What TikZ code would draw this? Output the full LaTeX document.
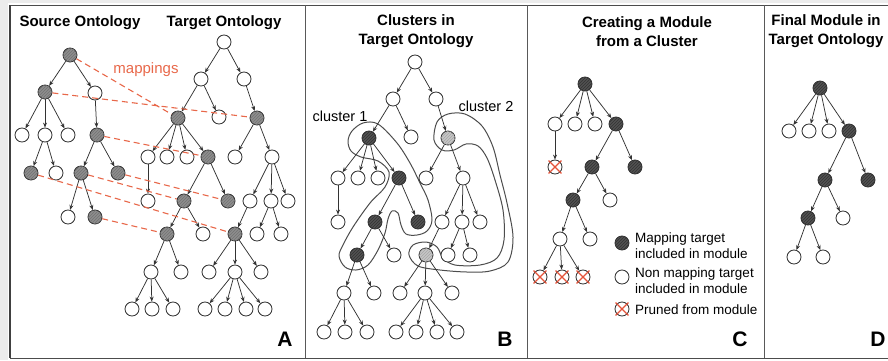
\documentclass[tikz,border=0pt]{standalone}
\usepackage{fontspec}
\setmainfont{Liberation Sans}
\usetikzlibrary{arrows.meta,patterns}
\definecolor{mapred}{HTML}{E8684A}
\definecolor{hatchA}{HTML}{8E8E8E}
\definecolor{darkN}{HTML}{525252}
\definecolor{lightN}{HTML}{C6C6C6}
\definecolor{xred}{HTML}{E5533A}
\tikzset{
 nd/.style={circle, draw=black!80, line width=0.85pt, minimum size=14pt, inner sep=0pt, fill=white},
 wn/.style={nd},
 hn/.style={nd, fill=hatchA, postaction={pattern=north east lines, pattern color=black!55}},
 dn/.style={nd, fill=darkN, postaction={pattern=north east lines, pattern color=black!80}},
 ln/.style={nd, fill=lightN, postaction={pattern=north east lines, pattern color=black!35}},
 ed/.style={-{Stealth[length=5pt,width=4pt]}, line width=0.75pt, draw=black!80},
 mp/.style={draw=mapred, line width=1.1pt, dash pattern=on 6pt off 4pt},
 clus/.style={draw=black!70, line width=1pt},
 xr/.style={draw=xred, line width=1.3pt},
 ttl/.style={font=\bfseries\fontsize{15}{19}\selectfont, align=center, inner sep=0pt},
 lab/.style={font=\bfseries\fontsize{21}{21}\selectfont, inner sep=0pt},
 lgd/.style={font=\fontsize{13.5}{15.5}\selectfont, align=left, anchor=west, inner sep=0pt},
 cl/.style={font=\fontsize{14.5}{16}\selectfont, inner sep=0pt},
}
\begin{document}
\begin{tikzpicture}[x=1pt,y=-1pt]
\useasboundingbox (0,0) rectangle (888,360);
% frame
\fill[gray!15] (0,0) rectangle (888,3);
\fill[gray!15] (0,0) rectangle (8,360);
\draw[black!70, line width=0.8pt] (10,5) -- (888,5);
\draw[black!70, line width=1pt] (10,358) -- (888,358);
\draw[black!75, line width=1.6pt] (10,5) -- (10,358);
\foreach \xx in {305,527,764} \draw[black!65, line width=1pt] (\xx,5) -- (\xx,358);

% titles
\node[ttl] (tA1) at (80,23) {Source Ontology};
\node[ttl] (tA2) at (224,23) {Target Ontology};
\node[ttl] (tB) at (416,31.5) {Clusters in\\Target Ontology};
\node[ttl] (tC) at (647,32) {Creating a Module\\from a Cluster};
\node[ttl] (tD) at (826,31) {Final Module in\\Target Ontology};
\node[lab] (LA) at (285,339) {A};
\node[lab] (LB) at (505,339) {B};
\node[lab] (LC) at (740,339) {C};
\node[lab] (LD) at (878,339) {D};

% cluster outlines (panel B)
\draw[clus] plot[smooth cycle, tension=0.55] coordinates {
 (352,131) (363,123) (378,124) (397,143) (410,163) (420,183) (428,200) (432,220)
 (427,231) (417,235) (406,234) (401,225) (398,213) (392,211) (388,219) (385,233)
 (378,250) (368,265) (356,270) (345,267) (339,256) (343,245) (353,227) (370,203)
 (385,187) (389,172) (378,161) (361,157) (351,151) (348,141)};
\draw[clus] plot[smooth cycle, tension=0.55] coordinates {
 (434,140) (437,122) (448,114) (465,114) (482,126) (493,147) (500,175) (507,203)
 (513,237) (508,262) (490,271) (467,272) (440,270) (418,266) (409,255) (413,245)
 (426,242) (437,247) (443,258) (455,265) (480,265) (497,258) (504,240) (503,210)
 (495,180) (487,158) (478,146) (466,144) (454,150) (442,150)};
\node[cl] (cl1) at (340,116) {cluster 1};
\node[cl] (cl2) at (486,106) {cluster 2};

% ---------- Panel A: source ----------
\node[hn] (s0) at (70,55) {};
\node[hn] (s1) at (45,92) {};
\node[wn] (s2) at (95,93) {};
\node[wn] (s3) at (22,135) {};
\node[wn] (s4) at (45,135) {};
\node[wn] (s5) at (68,135) {};
\node[hn] (s6) at (97,135) {};
\node[hn] (s7) at (31,173) {};
\node[wn] (s8) at (56,173) {};
\node[hn] (s9) at (81,173) {};
\node[hn] (s10) at (118,173) {};
\node[wn] (s11) at (68,217) {};
\node[hn] (s12) at (95,217) {};
\foreach \a/\b in {s0/s1,s0/s2,s1/s3,s1/s4,s1/s5,s2/s6,s4/s7,s4/s8,s6/s9,s6/s10,s9/s11,s9/s12}
  \draw[ed] (\a) -- (\b);

% ---------- Panel A: target ----------
\node[wn] (t0) at (224,42) {};
\node[wn] (t1) at (201,79) {};
\node[wn] (t2) at (244,79) {};
\node[hn] (t3) at (178,118) {};
\node[wn] (t4) at (219,117) {};
\node[hn] (t5) at (257,118) {};
\node[wn] (t6) at (148,157) {};
\node[wn] (t7) at (167,157) {};
\node[wn] (t8) at (187,157) {};
\node[hn] (t9) at (208,157) {};
\node[wn] (t10) at (235,157) {};
\node[wn] (t11) at (272,157) {};
\node[wn] (t12) at (148,201) {};
\node[hn] (t13) at (184,201) {};
\node[hn] (t14) at (228,201) {};
\node[wn] (t15) at (250,201) {};
\node[wn] (t16) at (271,201) {};
\node[wn] (t17) at (288,201) {};
\node[hn] (t18) at (167,234) {};
\node[wn] (t19) at (203,234) {};
\node[hn] (t20) at (235,234) {};
\node[wn] (t21) at (257,234) {};
\node[wn] (t22) at (281,234) {};
\node[wn] (t23) at (151,272) {};
\node[wn] (t24) at (181,272) {};
\node[wn] (t25) at (209,272) {};
\node[wn] (t26) at (235,272) {};
\node[wn] (t27) at (261,272) {};
\node[wn] (t28) at (132,309) {};
\node[wn] (t29) at (152,309) {};
\node[wn] (t30) at (173,309) {};
\node[wn] (t31) at (205,309) {};
\node[wn] (t32) at (225,309) {};
\node[wn] (t33) at (246,309) {};
\node[wn] (t34) at (265,309) {};
\foreach \a/\b in {t0/t1,t0/t2,t1/t3,t1/t4,t2/t5,t3/t6,t3/t7,t3/t8,t3/t9,t5/t10,t5/t11,
  t6/t12,t9/t13,t9/t14,t11/t15,t11/t16,t11/t17,t13/t18,t13/t19,t15/t20,t16/t21,t16/t22,
  t18/t23,t18/t24,t20/t25,t20/t26,t20/t27,t23/t28,t23/t29,t23/t30,t26/t31,t26/t32,t26/t33,t26/t34}
  \draw[ed] (\a) -- (\b);

% mappings
\foreach \a/\b in {s0/t3,s1/t5,s6/t9,s7/t20,s9/t13,s10/t14,s12/t18}
  \draw[mp] (\a) -- (\b);
\node[cl, text=mapred, font=\fontsize{15}{16}\selectfont] (mpl) at (146,70) {mappings};

% ---------- Panel B ----------
\node[wn] (b0) at (415,62) {};
\node[wn] (b1) at (393,99) {};
\node[wn] (b2) at (436,99) {};
\node[dn] (b3) at (369,138) {};
\node[wn] (b4) at (411,137) {};
\node[ln] (b5) at (448,138) {};
\node[wn] (b6) at (338,178) {};
\node[wn] (b7) at (358,178) {};
\node[wn] (b8) at (378,178) {};
\node[dn] (b9) at (399,178) {};
\node[wn] (b10) at (426,178) {};
\node[wn] (b11) at (463,178) {};
\node[wn] (b12) at (338,222) {};
\node[dn] (b13) at (375,222) {};
\node[dn] (b14) at (418,222) {};
\node[wn] (b15) at (442,222) {};
\node[wn] (b16) at (462,222) {};
\node[wn] (b17) at (480,222) {};
\node[dn] (b18) at (357,255) {};
\node[wn] (b19) at (394,255) {};
\node[ln] (b20) at (426,255) {};
\node[wn] (b21) at (448,255) {};
\node[wn] (b22) at (470,255) {};
\node[wn] (b23) at (344,293) {};
\node[wn] (b24) at (374,293) {};
\node[wn] (b25) at (400,293) {};
\node[wn] (b26) at (425,293) {};
\node[wn] (b27) at (452,293) {};
\node[wn] (b28) at (324,332) {};
\node[wn] (b29) at (345,332) {};
\node[wn] (b30) at (367,332) {};
\node[wn] (b31) at (396,332) {};
\node[wn] (b32) at (416,332) {};
\node[wn] (b33) at (437,332) {};
\node[wn] (b34) at (457,332) {};
\foreach \a/\b in {b0/b1,b0/b2,b1/b3,b1/b4,b2/b5,b3/b6,b3/b7,b3/b8,b3/b9,b5/b10,b5/b11,
  b6/b12,b9/b13,b9/b14,b11/b15,b11/b16,b11/b17,b13/b18,b13/b19,b15/b20,b16/b21,b16/b22,
  b18/b23,b18/b24,b20/b25,b20/b26,b20/b27,b23/b28,b23/b29,b23/b30,b26/b31,b26/b32,b26/b33,b26/b34}
  \draw[ed] (\a) -- (\b);

% ---------- Panel C ----------
\node[dn] (c0) at (585,84) {};
\node[wn] (c1) at (555,124) {};
\node[wn] (c2) at (575,124) {};
\node[wn] (c3) at (595,124) {};
\node[dn] (c4) at (616,124) {};
\node[wn] (c5) at (555,167) {};
\node[dn] (c6) at (592,167) {};
\node[dn] (c7) at (635,167) {};
\node[dn] (c8) at (573,200) {};
\node[wn] (c9) at (610,200) {};
\node[wn] (c10) at (560,239) {};
\node[wn] (c11) at (590,239) {};
\node[wn] (c12) at (540,277) {};
\node[wn] (c13) at (562,277) {};
\node[wn] (c14) at (583,277) {};
\foreach \a/\b in {c0/c1,c0/c2,c0/c3,c0/c4,c1/c5,c4/c6,c4/c7,c6/c8,c6/c9,c8/c10,c8/c11,c10/c12,c10/c13,c10/c14}
  \draw[ed] (\a) -- (\b);
% legend
\node[dn] (lg1) at (622,243) {};
\node[wn] (lg2) at (622,277) {};
\node[wn] (lg3) at (622,309) {};
\node[lgd] (lt1) at (635,245.5) {Mapping target\\included in module};
\node[lgd] (lt2) at (635,280.5) {Non mapping target\\included in module};
\node[lgd] (lt3) at (635,309.5) {Pruned from module};
\foreach \n in {c5,c12,c13,c14,lg3}
  \draw[xr] ([shift={(-1.2pt,1.2pt)}]\n.north west) -- ([shift={(1.2pt,-1.2pt)}]\n.south east)
            ([shift={(1.2pt,1.2pt)}]\n.north east) -- ([shift={(-1.2pt,-1.2pt)}]\n.south west);

% ---------- Panel D ----------
\node[dn] (d0) at (820,88) {};
\node[wn] (d1) at (789,131) {};
\node[wn] (d2) at (809,131) {};
\node[wn] (d3) at (829,131) {};
\node[dn] (d4) at (849,131) {};
\node[dn] (d5) at (825,180) {};
\node[dn] (d6) at (868,180) {};
\node[dn] (d7) at (808,218) {};
\node[wn] (d8) at (843,218) {};
\node[wn] (d9) at (794,257) {};
\node[wn] (d10) at (823,257) {};
\foreach \a/\b in {d0/d1,d0/d2,d0/d3,d0/d4,d4/d5,d4/d6,d5/d7,d5/d8,d7/d9,d7/d10}
  \draw[ed] (\a) -- (\b);
\end{tikzpicture}
\end{document}
